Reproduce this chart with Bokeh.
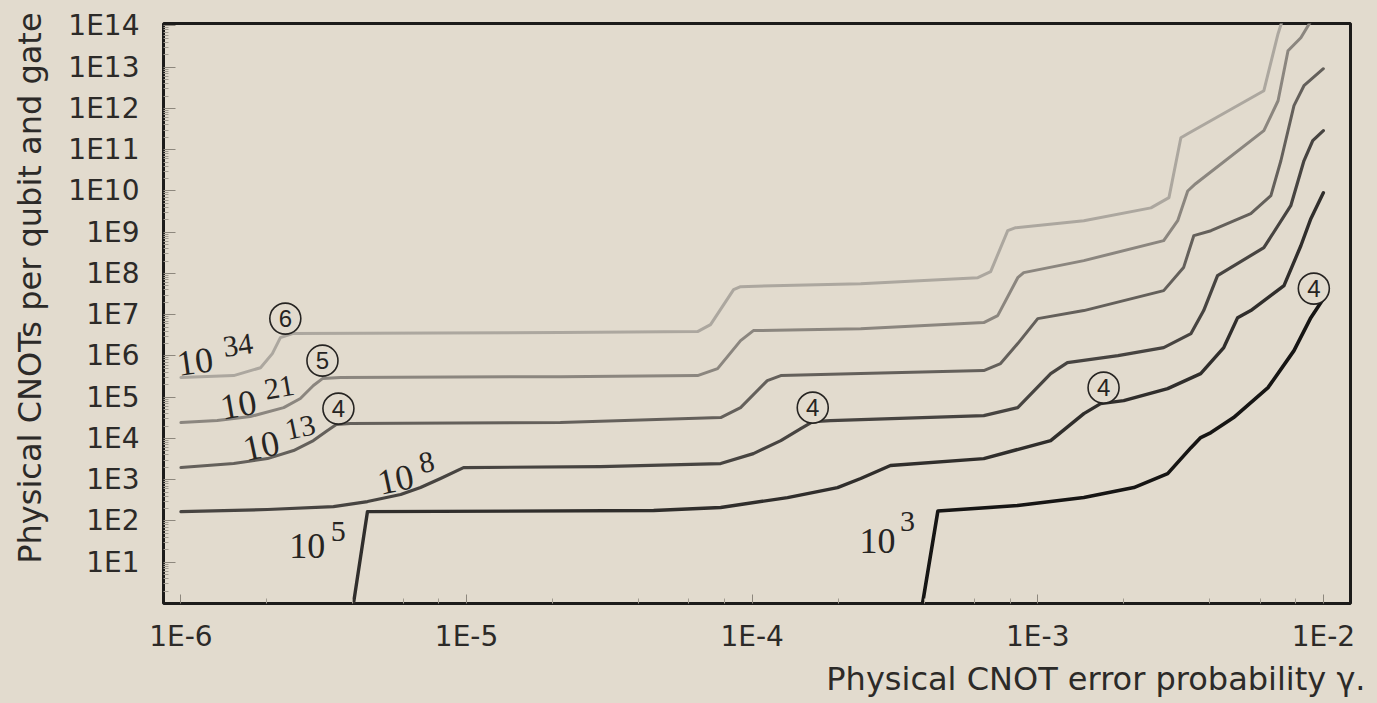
from bokeh.plotting import figure
from bokeh.models import FixedTicker, Title, Range1d, ColumnDataSource
from bokeh.core.properties import value
from bokeh.embed import file_html
from bokeh.resources import INLINE

# ---------------- data ----------------
x_ticks = [1e-6, 1e-5, 1e-4, 1e-3, 1e-2]
x_tick_labels = ["1E-6", "1E-5", "1E-4", "1E-3", "1E-2"]
y_ticks = [1e1, 1e2, 1e3, 1e4, 1e5, 1e6, 1e7, 1e8, 1e9, 1e10, 1e11, 1e12, 1e13, 1e14]
y_tick_labels = ["1E1", "1E2", "1E3", "1E4", "1E5", "1E6", "1E7", "1E8", "1E9",
                 "1E10", "1E11", "1E12", "1E13", "1E14"]

# curve for 10^34 logical operations
g34_x = [1.0e-6, 1.53e-6, 1.90e-6, 2.09e-6, 2.23e-6, 2.46e-6, 2.13e-5, 6.44e-5, 7.15e-5,
         8.61e-5, 9.11e-5, 2.40e-4, 6.17e-4, 6.84e-4, 7.85e-4, 8.37e-4, 1.45e-3, 2.49e-3,
         2.88e-3, 3.17e-3, 3.35e-3, 6.19e-3, 6.94e-3, 7.4e-3]
g34_y = [3.0e5, 3.35e5, 5.2e5, 1.14e6, 2.79e6, 3.49e6, 3.69e6, 3.9e6, 5.76e6,
         4.06e7, 4.8e7, 5.67e7, 7.9e7, 1.11e8, 1.09e9, 1.29e9, 1.9e9, 3.9e9,
         6.9e9, 1.96e11, 2.45e11, 2.7e12, 6.5e13, 2.6e14]

# curve for 10^21
g21_x = [1.0e-6, 1.34e-6, 1.75e-6, 2.29e-6, 2.62e-6, 2.91e-6, 3.13e-6, 3.62e-6, 2.13e-5,
         6.44e-5, 7.57e-5, 9.11e-5, 1.01e-4, 2.40e-4, 6.47e-4, 7.24e-4, 8.51e-4, 8.93e-4,
         1.45e-3, 2.76e-3, 3.09e-3, 3.35e-3, 3.57e-3, 6.19e-3, 6.94e-3, 7.52e-3, 8.34e-3,
         9.42e-3]
g21_y = [2.43e4, 2.72e4, 3.4e4, 5.6e4, 9.3e4, 1.92e5, 2.83e5, 3.0e5, 3.16e5,
         3.35e5, 4.94e5, 2.36e6, 4.12e6, 4.6e6, 6.44e6, 9.5e6, 7.9e7, 1.05e8,
         2.05e8, 6.25e8, 1.9e9, 1.0e10, 1.5e10, 2.9e11, 1.54e12, 2.5e13, 5.2e13,
         2.1e14]

# curve for 10^13
g13_x = [1.0e-6, 1.53e-6, 2.01e-6, 2.48e-6, 2.91e-6, 3.26e-6, 3.50e-6, 3.92e-6, 2.13e-5,
         7.76e-5, 9.11e-5, 1.13e-4, 1.26e-4, 2.40e-4, 6.47e-4, 7.41e-4, 8.51e-4, 1.0e-3,
         1.45e-3, 2.76e-3, 3.24e-3, 3.52e-3, 4.04e-3, 5.57e-3, 6.55e-3, 7.10e-3, 7.89e-3,
         8.55e-3, 1.0e-2]
g13_y = [1.97e3, 2.47e3, 3.26e3, 5.1e3, 8.9e3, 1.56e4, 2.17e4, 2.3e4, 2.43e4,
         3.21e4, 5.6e4, 2.53e5, 3.35e5, 3.74e5, 4.42e5, 6.54e5, 2.0e6, 8.05e6,
         1.26e7, 3.84e7, 1.39e8, 8.3e8, 1.09e9, 2.82e9, 7.7e9, 5.4e10, 1.17e12,
         3.56e12, 9.2e12]

# curve for 10^8
g8_x = [1.0e-6, 2.01e-6, 3.42e-6, 4.50e-6, 5.88e-6, 6.90e-6, 8.11e-6, 9.76e-6, 2.94e-5,
        7.76e-5, 1.01e-4, 1.26e-4, 1.48e-4, 1.63e-4, 1.88e-4, 6.47e-4, 8.51e-4, 1.11e-3,
        1.27e-3, 1.91e-3, 2.76e-3, 3.44e-3, 3.81e-3, 4.26e-3, 4.74e-3, 6.19e-3, 7.69e-3,
        8.55e-3, 9.18e-3, 1.0e-2]
g8_y = [169, 190, 224, 296, 438, 647, 1.07e3, 1.97e3, 2.09e3,
        2.47e3, 4.3e3, 8.9e3, 1.74e4, 2.57e4, 2.72e4, 3.59e4, 5.6e4, 3.74e5,
        6.9e5, 1.02e6, 1.6e6, 3.49e6, 1.26e7, 8.9e7, 1.39e8, 4.23e8, 4.4e9,
        5.4e10, 1.66e11, 2.9e11]

# curve for 10^5
g5_x = [4.02e-6, 4.50e-6, 4.52e-5, 7.76e-5, 1.33e-4, 1.99e-4, 2.40e-4, 3.05e-4, 6.47e-4,
        1.11e-3, 1.45e-3, 1.66e-3, 2.0e-3, 2.85e-3, 3.72e-3, 4.48e-3, 5.01e-3, 5.57e-3,
        7.28e-3, 8.34e-3, 9.04e-3, 1.0e-2]
g5_y = [1.0, 169, 179, 212, 370, 647, 1.07e3, 2.21e3, 3.26e3,
        8.9e3, 4.0e4, 7.0e4, 8.3e4, 1.62e5, 3.74e5, 1.6e6, 8.5e6, 1.26e7,
        5.1e7, 4.7e8, 2.13e9, 9.1e9]

# curve for 10^3
g3_x = [3.95e-4, 4.47e-4, 8.51e-4, 1.45e-3, 2.17e-3, 2.85e-3, 3.44e-3, 3.72e-3, 4.04e-3,
        4.85e-3, 6.4e-3, 7.89e-3, 9.04e-3, 1.0e-2]
g3_y = [1.0, 175, 237, 370, 647, 1.41e3, 6.0e3, 1.05e4, 1.39e4,
        3.21e4, 1.71e5, 1.35e6, 8.5e6, 2.45e7]

# circled concatenation levels
level_x = [2.32e-6, 3.13e-6, 3.56e-6, 1.63e-4, 1.70e-3, 9.26e-3]
level_y = [8.05e6, 7.7e5, 5.3e4, 5.6e4, 1.71e5, 4.3e7]
level_text = ["6", "5", "4", "4", "4", "4"]

# computation size labels 10^n
size_x = [1.12e-6, 1.59e-6, 1.91e-6, 5.64e-6, 2.77e-6, 2.75e-4]
size_y = [7.3e5, 6.6e4, 6.7e3, 1.01e3, 25.4, 33.6]
size_base = ["10", "10", "10", "10", "10", "10"]
size_exp = ["34", "21", "13", "8", "5", "3"]

# ---------------- styling ----------------
BG = "#e2dbce"
INK = "#262422"
label_angle = [8, 10, 12, 12, 0, 0]
exp_dx = [43, 41, 39, 31, 31, 30]
exp_dy = [-16, -17, -18, -17, -14, -19]

curves = [
    (g34_x, g34_y, "#aca79f", 3.0),
    (g21_x, g21_y, "#8b867f", 3.0),
    (g13_x, g13_y, "#64605b", 3.0),
    (g8_x, g8_y, "#474441", 3.2),
    (g5_x, g5_y, "#302e2c", 3.4),
    (g3_x, g3_y, "#161514", 3.6),
]

p = figure(width=1377, height=703,
           x_axis_type="log", y_axis_type="log",
           x_range=Range1d(10 ** -6.061, 10 ** -1.905),
           y_range=Range1d(1.0, 10 ** 14.06),
           output_backend="svg", toolbar_location=None,
           min_border_left=163, min_border_right=27,
           min_border_top=23, min_border_bottom=100)

p.background_fill_color = BG
p.border_fill_color = BG
p.outline_line_color = "#1c1b1a"
p.outline_line_width = 3
p.grid.visible = False

x_minor = [m * d for d in [1e-7, 1e-6, 1e-5, 1e-4, 1e-3, 1e-2] for m in (2, 4, 6, 8)]
y_minor = [m * d for d in [1e0, 1e1, 1e2, 1e3, 1e4, 1e5, 1e6, 1e7, 1e8, 1e9, 1e10, 1e11, 1e12, 1e13]
           for m in range(2, 10)]

xax = p.xaxis[0]
xax.ticker = FixedTicker(ticks=x_ticks, minor_ticks=x_minor)
xax.major_label_overrides = dict(zip(x_ticks, x_tick_labels))
yax = p.yaxis[0]
yax.ticker = FixedTicker(ticks=y_ticks, minor_ticks=y_minor)
yax.major_label_overrides = dict(zip(y_ticks, y_tick_labels))

for ax in (xax, yax):
    ax.axis_line_color = None
    ax.major_tick_in = 9
    ax.major_tick_out = 0
    ax.minor_tick_in = 5
    ax.minor_tick_out = 0
    ax.major_tick_line_color = "#8d877d"
    ax.minor_tick_line_color = "#a39d92"
    ax.major_label_text_font = "DejaVu Sans"
    ax.major_label_text_font_size = "28px"
    ax.major_label_text_color = "#2c2a28"
yax.major_tick_in = 12
yax.major_label_standoff = 24
xax.major_label_standoff = 16

# leading no-break spaces nudge the centred vertical label upward, as in the original
yax.axis_label = "\u00a0" * 5 + "Physical CNOTs per qubit and gate"
yax.axis_label_text_font = "DejaVu Sans"
yax.axis_label_text_font_size = "32px"
yax.axis_label_text_font_style = "normal"
yax.axis_label_text_color = "#2c2a28"
yax.axis_label_standoff = 16

xt = Title(text="Physical CNOT error probability \u03b3.", align="right",
           text_font="DejaVu Sans", text_font_size="32px", text_font_style="normal",
           text_color="#2c2a28", standoff=5, offset=-15)
p.add_layout(xt, "below")

for cx, cy, col, lw in curves:
    p.line(cx, cy, line_color=col, line_width=lw, line_join="round", line_cap="round")

lev = ColumnDataSource(dict(x=level_x, y=level_y, t=level_text))
p.scatter("x", "y", source=lev, marker="circle", size=31, fill_color=BG,
          line_color=INK, line_width=1.6)
p.text("x", "y", text="t", source=lev, text_font=value("Liberation Sans"),
       text_font_size="24px", text_align="center", text_baseline="middle",
       text_color=INK)

lab = ColumnDataSource(dict(x=size_x, y=size_y, b=size_base, e=size_exp,
                            a=label_angle, dx=exp_dx, dy=exp_dy))
p.text("x", "y", text="b", source=lab, angle="a", angle_units="deg",
       text_font=value("Liberation Serif"), text_font_size="36px",
       text_align="center", text_baseline="middle", text_color=INK)
p.text("x", "y", text="e", source=lab, angle="a", angle_units="deg",
       x_offset="dx", y_offset="dy",
       text_font=value("Liberation Serif"), text_font_size="30px",
       text_align="center", text_baseline="middle", text_color=INK)

html = file_html(p, INLINE)
html = html.replace("<head>", "<head><style>body{background:%s;}</style>" % BG, 1)
open("out.html", "w").write(html)
